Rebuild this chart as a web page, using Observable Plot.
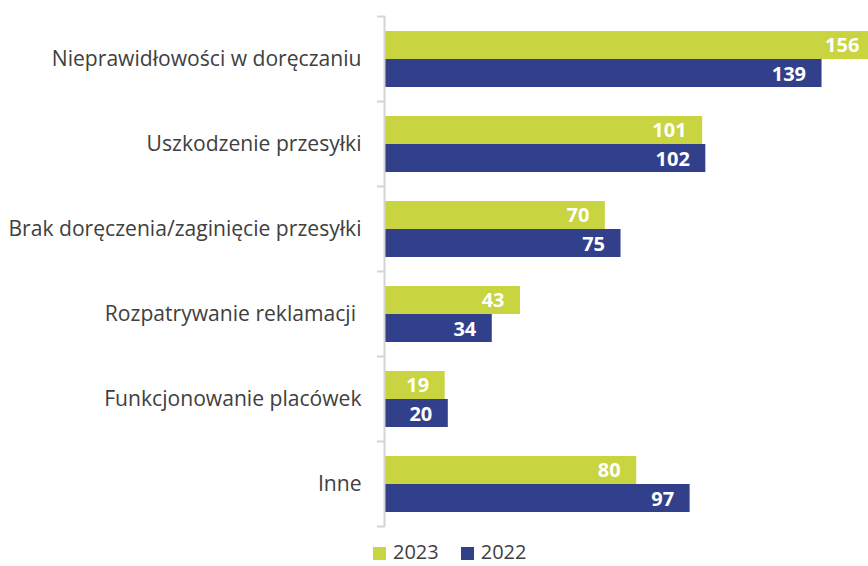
<!DOCTYPE html>
<html><head><meta charset="utf-8">
<script src="https://cdn.jsdelivr.net/npm/d3@7"></script>
<script src="https://cdn.jsdelivr.net/npm/@observablehq/plot@0.6"></script>
<style>
body{margin:0;background:#fff;font-family:"Open Sans",sans-serif;overflow:hidden;}
#legend{position:absolute;left:373px;top:543px;display:flex;align-items:center;height:18px;line-height:18px;font-size:20px;color:#404040;}
#legend .sw{width:13px;height:13px;display:inline-block;margin-right:7px;position:relative;top:1px;}
#legend .item{display:flex;align-items:center;margin-right:22px;}
</style></head>
<body>
<div id="chart"></div>
<div id="legend"></div>
<script>
const categories = ["Nieprawidłowości w doręczaniu","Uszkodzenie przesyłki","Brak doręczenia/zaginięcie przesyłki","Rozpatrywanie reklamacji\u00a0","Funkcjonowanie placówek","Inne"];
const values2023 = [156,101,70,43,19,80];
const values2022 = [139,102,75,34,20,97];
const years = ["2023","2022"];
const colors = ["#c8d440","#32408c"];

const d23 = categories.map((c,i)=>({cat:c, v:values2023[i]}));
const d22 = categories.map((c,i)=>({cat:c, v:values2022[i]}));

const lastCat = categories[categories.length-1];
const axisColor = "#d4d4d4";

const plot = Plot.plot({
  width: 868, height: 536,
  marginLeft: 385, marginRight: 0, marginTop: 16, marginBottom: 10,
  style: {fontFamily: "'Open Sans', sans-serif", overflow: "hidden"},
  x: {domain: [0, 153.8], axis: null},
  y: {domain: categories, padding: 0, label: null},
  marks: [
    Plot.axisY({tickSize: 0, tickPadding: 24, fontSize: 21.1, color: "#404040", label: null}),
    Plot.barX(d23, {y: "cat", x: "v", fill: colors[0], insetTop: 15, insetBottom: 42, clip: true}),
    Plot.barX(d22, {y: "cat", x: "v", fill: colors[1], insetTop: 43, insetBottom: 14, clip: true}),
    Plot.text(d23, {y: "cat", x: "v", text: d=>String(d.v), dy: -13.5, dx: -16, textAnchor: "end", fill: "white", fontWeight: "bold", fontSize: 20}),
    Plot.text(d22, {y: "cat", x: "v", text: d=>String(d.v), dy: 15.5, dx: -16, textAnchor: "end", fill: "white", fontWeight: "bold", fontSize: 20}),
    Plot.ruleX([0], {stroke: axisColor, strokeWidth: 2, dx: -1}),
    Plot.ruleY(categories, {y: d=>d, x1: 0, x2: 0, dy: -42.5, insetLeft: -8, stroke: axisColor, strokeWidth: 2}),
    Plot.ruleY([lastCat], {y: d=>d, x1: 0, x2: 0, dy: 42.5, insetLeft: -8, stroke: axisColor, strokeWidth: 2})
  ]
});
document.getElementById("chart").appendChild(plot);

const leg = document.getElementById("legend");
years.forEach((y,i)=>{
  const it = document.createElement("span"); it.className="item";
  const sw = document.createElement("span"); sw.className="sw"; sw.style.background=colors[i];
  it.appendChild(sw); it.appendChild(document.createTextNode(y));
  leg.appendChild(it);
});
</script>
</body></html>
